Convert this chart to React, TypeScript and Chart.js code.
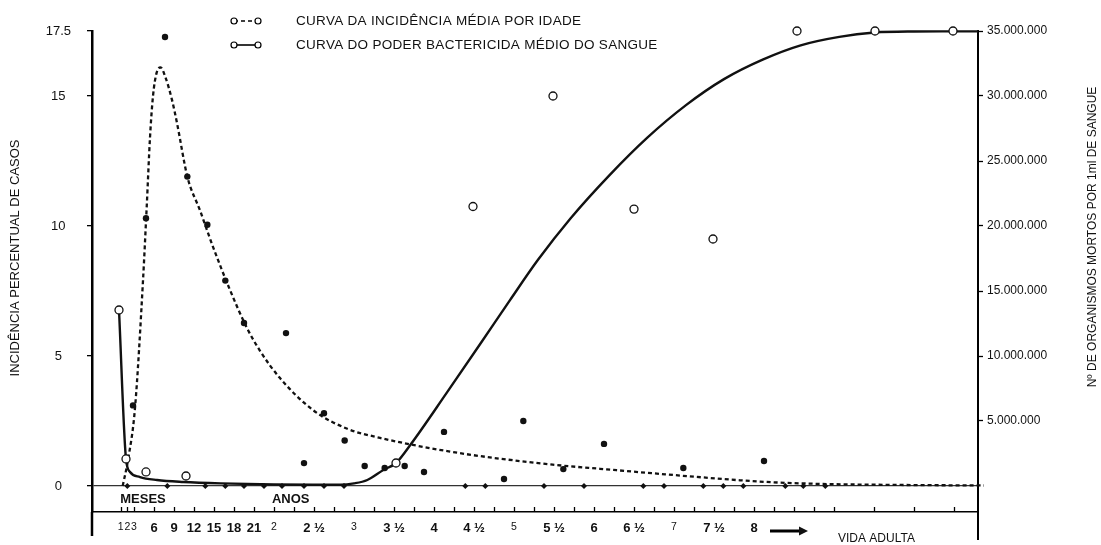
import React, { useEffect, useRef } from 'react';
import { Chart, registerables } from 'chart.js';

Chart.register(...registerables);

const FONT = '"Liberation Sans", Arial, Helvetica, sans-serif';
const NARROW = '"Liberation Sans Narrow", "Liberation Sans", Arial, sans-serif';

// ---------- data (x = age in months) ----------
// smoothed average incidence by age (%), left axis
const incidenceCurveMonths = [1.3, 2.1, 3.15, 4.35, 4.9, 5.4, 5.85, 6.4, 7.0, 7.65, 8.7, 9.45, 11, 12.9, 14.85, 17.4, 19.9, 21.9, 24.9, 29.85, 35, 39.9, 44.85, 50, 54.9, 59.85, 65.8, 73.9, 80.8, 87.4, 93.9, 99.9, 108, 118, 130.5];
const incidenceCurveValues = [0, 1.0, 3.0, 7.9, 10.7, 13.4, 15.0, 15.9, 16.1, 15.77, 14.85, 13.96, 11.9, 10.6, 9.2, 7.54, 6.1, 5.2, 4.15, 2.92, 2.2, 1.85, 1.58, 1.34, 1.15, 0.99, 0.82, 0.64, 0.49, 0.35, 0.22, 0.13, 0.07, 0.04, 0.02];

// observed incidence (%), left axis
const incidenceDotMonths = [2.85, 4.8, 7.65, 11.0, 14.0, 16.7, 19.5, 25.8, 28.5, 31.5, 34.6, 37.6, 40.6, 43.6, 46.5, 49.5, 58.5, 61.4, 67.4, 73.5, 85.4, 97.5];
const incidenceDotValues = [3.1, 10.3, 17.27, 11.9, 10.05, 7.9, 6.27, 5.88, 0.88, 2.8, 1.75, 0.77, 0.69, 0.77, 0.54, 2.08, 0.27, 2.5, 0.65, 1.62, 0.69, 0.96];

// observations lying on the zero line (%), left axis
const zeroDotMonths = [2, 8, 13.7, 16.7, 19.5, 22.5, 25.2, 28.5, 31.5, 34.5, 52.7, 55.7, 64.5, 70.5, 79.4, 82.5, 88.4, 91.4, 94.4, 100.7, 103.4, 106.7];
const zeroDotValues = [0, 0, 0, 0, 0, 0, 0, 0, 0, 0, 0, 0, 0, 0, 0, 0, 0, 0, 0, 0, 0, 0];

// smoothed bactericidal power of blood (millions of organisms per ml), right axis
const bactCurveMonths = [0.75, 1.8, 2.4, 3.9, 6.45, 10.4, 16, 24, 30, 34, 36, 38, 40.4, 42.3, 44.55, 49.95, 54.9, 59.4, 63.6, 68.5, 74.3, 80.0, 85.8, 91.5, 97.3, 103.0, 108.8, 114.1, 120, 125.8, 129.6];
const bactCurveValues = [13.54, 2.08, 1.08, 0.69, 0.46, 0.31, 0.2, 0.12, 0.1, 0.1, 0.2, 0.46, 1.23, 1.77, 3.23, 7.2, 10.9, 14.3, 17.4, 20.6, 23.9, 26.8, 29.3, 31.3, 32.8, 33.9, 34.55, 34.88, 34.96, 34.97, 34.97];

// observed bactericidal power (millions), right axis
const bactDotMonths = [0.75, 1.8, 4.8, 10.8, 42.3, 53.85, 65.85, 78, 89.85, 102.45, 114.15, 125.85];
const bactDotValues = [13.54, 2.08, 1.08, 0.77, 1.77, 21.5, 30.0, 21.3, 19.0, 35.0, 35.0, 35.0];

// axes
const xTickMonths = [1, 2, 3, 6, 9, 12, 15, 18, 21, 24, 27, 30, 33, 36, 39, 42, 45, 48, 51, 54, 57, 60, 63, 66, 69, 72, 75, 78, 81, 84, 87, 90, 93, 96, 99, 102, 105, 108, 114, 120, 126];
const xLabelMonths = [1, 2, 3, 6, 9, 12, 15, 18, 21, 24, 30, 36, 42, 48, 54, 60, 66, 72, 78, 84, 90, 96];
const xLabelTexts = ['1', '2', '3', '6', '9', '12', '15', '18', '21', '2', '2 ½', '3', '3 ½', '4', '4 ½', '5', '5 ½', '6', '6 ½', '7', '7 ½', '8'];
const xLabelBold = [false, false, false, true, true, true, true, true, true, false, true, false, true, true, true, false, true, true, true, false, true, true];
const leftTicks = [0, 5, 10, 15, 17.5];
const rightTicks = [5, 10, 15, 20, 25, 30, 35];

const LEFT_TITLE = 'INCIDÊNCIA PERCENTUAL DE CASOS';
const RIGHT_TITLE = 'Nº DE ORGANISMOS MORTOS POR 1ml DE SANGUE';

const decorPlugin = {
  id: 'decor',
  afterDraw(chart: any) {
    const { ctx, chartArea: ca, scales } = chart;
    const xs = scales.x;
    const ys = scales.y;
    ctx.save();
    ctx.strokeStyle = '#000';
    ctx.fillStyle = '#111';

    // axis lines extended below the x axis
    ctx.lineWidth = 2.5;
    ctx.beginPath();
    ctx.moveTo(ca.left, ca.bottom);
    ctx.lineTo(ca.left, ca.bottom + 24);
    ctx.stroke();
    ctx.lineWidth = 2;
    ctx.beginPath();
    ctx.moveTo(ca.right, ca.bottom);
    ctx.lineTo(ca.right, ca.bottom + 28);
    ctx.stroke();

    // x ticks pointing up into the plot
    ctx.lineWidth = 1.3;
    xs.ticks.forEach((t: any) => {
      const px = Math.round(xs.getPixelForValue(t.value)) + 0.5;
      ctx.beginPath();
      ctx.moveTo(px, ca.bottom - 5);
      ctx.lineTo(px, ca.bottom);
      ctx.stroke();
    });

    // MESES / ANOS
    ctx.font = `bold 13px ${FONT}`;
    ctx.textAlign = 'center';
    ctx.textBaseline = 'middle';
    ctx.fillText('MESES', xs.getPixelForValue(4.35), ys.getPixelForValue(-0.5));
    ctx.fillText('ANOS', xs.getPixelForValue(26.5), ys.getPixelForValue(-0.5));

    // arrow + VIDA ADULTA
    const ay = ca.bottom + 19;
    const ax0 = xs.getPixelForValue(98.4);
    const ax1 = xs.getPixelForValue(104.1);
    ctx.lineWidth = 3;
    ctx.beginPath();
    ctx.moveTo(ax0, ay);
    ctx.lineTo(ax1 - 7, ay);
    ctx.stroke();
    ctx.beginPath();
    ctx.moveTo(ax1, ay);
    ctx.lineTo(ax1 - 9, ay - 4.5);
    ctx.lineTo(ax1 - 9, ay + 4.5);
    ctx.closePath();
    ctx.fill();
    ctx.font = `12px ${FONT}`;
    ctx.textAlign = 'left';
    ctx.fillText('VIDA ADULTA', xs.getPixelForValue(108.6), ca.bottom + 27);

    // axis titles
    ctx.textAlign = 'center';
    ctx.font = `13px ${FONT}`;
    ctx.save();
    ctx.translate(15, 258);
    ctx.rotate(-Math.PI / 2);
    ctx.fillText(LEFT_TITLE, 0, 0);
    ctx.restore();
    ctx.font = `12px ${FONT}`;
    ctx.save();
    ctx.translate(1093, 237);
    ctx.rotate(-Math.PI / 2);
    ctx.fillText(RIGHT_TITLE, 0, 0);
    ctx.restore();

    // legend
    const items = [
      { text: chart.data.datasets[0].label, dash: [4, 3], y: 21 },
      { text: chart.data.datasets[3].label, dash: [], y: 45 },
    ];
    items.forEach((it) => {
      ctx.lineWidth = 1.6;
      ctx.setLineDash(it.dash);
      ctx.beginPath();
      ctx.moveTo(234, it.y);
      ctx.lineTo(258, it.y);
      ctx.stroke();
      ctx.setLineDash([]);
      ctx.lineWidth = 1.2;
      [234, 258].forEach((cx) => {
        ctx.beginPath();
        ctx.arc(cx, it.y, 3, 0, Math.PI * 2);
        ctx.fillStyle = '#fff';
        ctx.fill();
        ctx.stroke();
      });
      ctx.fillStyle = '#111';
      ctx.font = `13.5px ${FONT}`;
      ctx.textAlign = 'left';
      ctx.textBaseline = 'middle';
      if ('letterSpacing' in ctx) (ctx as any).letterSpacing = '0.3px';
      ctx.fillText(it.text, 296, it.y);
      if ('letterSpacing' in ctx) (ctx as any).letterSpacing = '0px';
    });
    ctx.restore();
  },
};

function pts(xsArr: number[], ysArr: number[]) {
  return xsArr.map((m, i) => ({ x: m, y: ysArr[i] }));
}

export default function App() {
  const ref = useRef<HTMLCanvasElement>(null);

  useEffect(() => {
    document.body.style.margin = '0';
    const canvas = ref.current;
    if (!canvas) return;
    const lastInc = incidenceCurveMonths.length - 1;
    const chart = new Chart(canvas, {
      type: 'scatter',
      data: {
        datasets: [
          {
            label: 'CURVA DA INCIDÊNCIA MÉDIA POR IDADE',
            data: pts(incidenceCurveMonths, incidenceCurveValues),
            yAxisID: 'y',
            showLine: true,
            borderColor: '#111',
            borderWidth: 2.3,
            borderDash: [4, 3],
            cubicInterpolationMode: 'monotone',
            pointRadius: (c: any) => (c.dataIndex === lastInc ? 3.5 : 0),
            pointBackgroundColor: '#fff',
            pointBorderColor: '#111',
            pointBorderWidth: 1.2,
            clip: false,
            order: 3,
          },
          {
            label: 'Incidência observada',
            data: pts(incidenceDotMonths, incidenceDotValues),
            yAxisID: 'y',
            showLine: false,
            pointRadius: 3.2,
            pointBackgroundColor: '#111',
            pointBorderWidth: 0,
            order: 1,
          },
          {
            label: 'Incidência nula',
            data: pts(zeroDotMonths, zeroDotValues),
            yAxisID: 'y',
            showLine: false,
            pointStyle: 'rectRot',
            pointRadius: 3,
            pointBackgroundColor: '#111',
            pointBorderWidth: 0,
            order: 1,
          },
          {
            label: 'CURVA DO PODER BACTERICIDA MÉDIO DO SANGUE',
            data: pts(bactCurveMonths, bactCurveValues),
            yAxisID: 'y2',
            showLine: true,
            borderColor: '#111',
            borderWidth: 2.4,
            cubicInterpolationMode: 'monotone',
            pointRadius: 0,
            clip: false,
            order: 2,
          },
          {
            label: 'Poder bactericida observado',
            data: pts(bactDotMonths, bactDotValues),
            yAxisID: 'y2',
            showLine: false,
            pointRadius: 4,
            pointBackgroundColor: '#fff',
            pointBorderColor: '#111',
            pointBorderWidth: 1.3,
            clip: false,
            order: 0,
          },
        ],
      },
      options: {
        responsive: false,
        animation: false,
        events: [],
        layout: { padding: { top: 31, left: 0, right: 0, bottom: 0 } },
        plugins: { legend: { display: false }, tooltip: { enabled: false } },
        scales: {
          x: {
            type: 'linear',
            min: -3.3,
            max: 129.6,
            afterBuildTicks: (s: any) => {
              s.ticks = xTickMonths.map((v) => ({ value: v }));
            },
            afterFit: (s: any) => {
              s.height = 33;
            },
            grid: { drawOnChartArea: false, drawTicks: false },
            border: { display: true, color: '#000', width: 1.5 },
            ticks: {
              autoSkip: false,
              maxRotation: 0,
              minRotation: 0,
              padding: 9,
              color: '#111',
              callback: (v: any) => {
                const i = xLabelMonths.indexOf(Number(v));
                return i >= 0 ? xLabelTexts[i] : '';
              },
              font: (c: any) => {
                const v = c.tick ? c.tick.value : 0;
                const i = xLabelMonths.indexOf(v);
                const bold = i >= 0 && xLabelBold[i];
                return bold
                  ? { family: NARROW, size: 13, weight: 'bold' }
                  : { family: FONT, size: 10.5, weight: 'normal' };
              },
            },
          },
          y: {
            type: 'linear',
            position: 'left',
            min: -1,
            max: 17.5,
            afterBuildTicks: (s: any) => {
              s.ticks = leftTicks.map((v) => ({ value: v }));
            },
            afterFit: (s: any) => {
              s.width = 92;
            },
            ticks: {
              crossAlign: 'center',
              padding: 16,
              color: '#111',
              font: { family: FONT, size: 13 },
              callback: (v: any) => (Number(v) === 17.5 ? '17.5' : String(v)),
            },
            grid: {
              drawOnChartArea: true,
              color: (c: any) => (c.tick && c.tick.value === 0 ? '#333' : 'rgba(0,0,0,0)'),
              lineWidth: 1.3,
              tickLength: 5,
              tickColor: '#000',
              tickWidth: 1.3,
            },
            border: { display: true, color: '#000', width: 2.5 },
          },
          y2: {
            type: 'linear',
            position: 'right',
            min: -2,
            max: 35,
            afterBuildTicks: (s: any) => {
              s.ticks = rightTicks.map((v) => ({ value: v }));
            },
            afterFit: (s: any) => {
              s.width = 123;
            },
            ticks: {
              padding: 4,
              color: '#111',
              font: { family: FONT, size: 12 },
              callback: (v: any) => `${v}.000.000`,
            },
            grid: { drawOnChartArea: false, tickLength: 5, tickColor: '#000', tickWidth: 1.3 },
            border: { display: true, color: '#000', width: 2 },
          },
        },
      },
      plugins: [decorPlugin],
    } as any);
    return () => chart.destroy();
  }, []);

  return (
    <div style={{ width: 1101, height: 545, background: '#fff' }}>
      <canvas ref={ref} width={1101} height={545} style={{ display: 'block' }} />
    </div>
  );
}
